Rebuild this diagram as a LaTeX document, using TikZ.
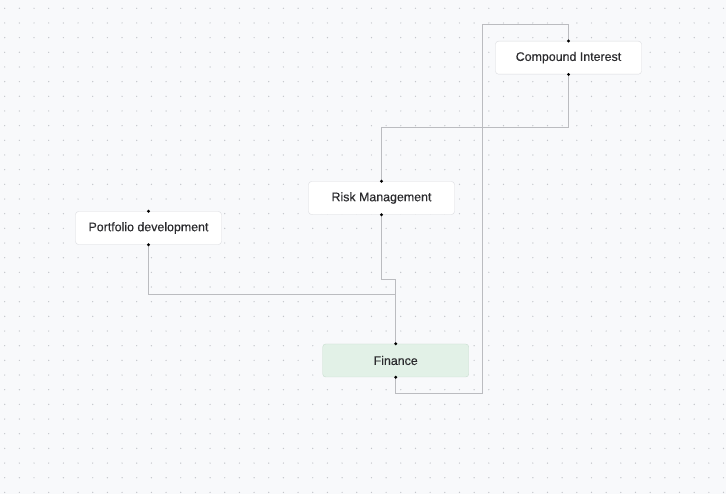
\documentclass[tikz,border=0pt]{standalone}
\usepackage{fontspec}
\setmainfont{Liberation Sans}
\newfontfamily\labelfont[FakeBold=0.35]{Liberation Sans}
\usepackage{tikz}
\usetikzlibrary{positioning,calc}

\definecolor{canvas}{HTML}{F8F9FB}
\definecolor{griddot}{HTML}{C4C6CB}
\definecolor{boxline}{HTML}{DADBDF}
\definecolor{wirecol}{HTML}{BBBCC0}
\definecolor{labelcol}{HTML}{2B2B2E}
\definecolor{finfill}{HTML}{E2F1E7}
\definecolor{finline}{HTML}{C9DDD0}

\begin{document}
\begin{tikzpicture}[
        x=1pt, y=-1pt,
        box/.style={draw=boxline, fill=white, rounded corners=3pt,
            minimum width=146pt, minimum height=33pt, inner sep=0pt,
            text=labelcol, font=\labelfont\fontsize{12.4}{14}\selectfont},
        finbox/.style={box, draw=finline, fill=finfill},
        wire/.style={draw=wirecol, line width=0.9pt},
        port/.style={fill=black, draw=none}
    ]
        \fill[canvas] (0,0) rectangle (726,494);
        \useasboundingbox (0,0) rectangle (726,494);
        \foreach \i in {0,...,49}
            \foreach \j in {0,...,33}
                \fill[griddot] (4.7+14.67*\i, 8.3+14.67*\j) circle (0.7pt);

        % the four topics
        \node[box] (compound) at (568.5,57.7) {Compound Interest};
        \node[box] (risk) at (381.5,198) {Risk Management};
        \node[box] (portfolio) at (148.5,228) {Portfolio development};
        \node[finbox] (finance) at (395.7,360.5) {Finance};

        % links
        \draw[wire] (portfolio.south) -- ++(0,50) -| (finance.north);
        \draw[wire] (risk.south) -- ++(0,65) -| (finance.north);
        \draw[wire] (compound.south) -- ++(0,53) -| (risk.north);
        \draw[wire] (finance.south) -- ++(0,16)
            -| ([xshift=-86.5pt, yshift=16.5pt]compound.north) -| (compound.north);

        % ports on every box
        \foreach \n in {compound,risk,portfolio,finance} {
            \fill[port] (\n.north) circle (1.6pt);
            \fill[port] (\n.south) circle (1.6pt);
        }
    \end{tikzpicture}
\end{document}
